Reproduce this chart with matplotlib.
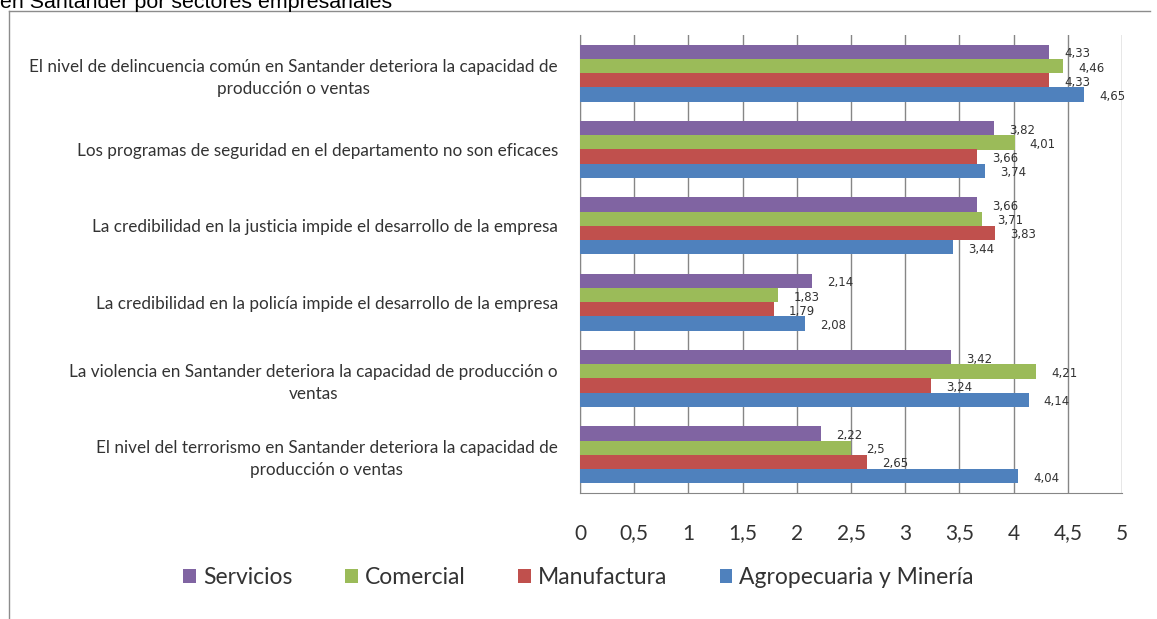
import matplotlib.pyplot as plt
from matplotlib.lines import Line2D
import numpy as np

# data
categorias = [
    'El nivel de delincuencia común en Santander deteriora la capacidad de\nproducción o ventas',
    'Los programas de seguridad en el departamento no son eficaces',
    'La credibilidad en la justicia impide el desarrollo de la empresa',
    'La credibilidad en la policía impide el desarrollo de la empresa',
    'La violencia en Santander deteriora la capacidad de producción o\nventas',
    'El nivel del terrorismo en Santander deteriora la capacidad de\nproducción o ventas',
]
servicios = [4.33, 3.82, 3.66, 2.14, 3.42, 2.22]
comercial = [4.46, 4.01, 3.71, 1.83, 4.21, 2.5]
manufactura = [4.33, 3.66, 3.83, 1.79, 3.24, 2.65]
agropecuaria = [4.65, 3.74, 3.44, 2.08, 4.14, 4.04]
series_names = ['Servicios', 'Comercial', 'Manufactura', 'Agropecuaria y Minería']
colores = ['#8064A2', '#9BBB59', '#C0504D', '#4F81BD']
ticks_x = [0, 0.5, 1, 1.5, 2, 2.5, 3, 3.5, 4, 4.5, 5]

fig = plt.figure(figsize=(11.57, 6.19), dpi=100)
ax = fig.add_axes([580/1157, 1-493/619, 542/1157, 458/619])

n = len(categorias)
centros = np.arange(n)[::-1]
h = 0.187
offsets = [1.5*h, 0.5*h, -0.5*h, -1.5*h]
for vals, nombre, col, off in zip([servicios, comercial, manufactura, agropecuaria], series_names, colores, offsets):
    bars = ax.barh(centros + off, vals, height=h, color=col, label=nombre, zorder=3)
    for b, v in zip(bars, vals):
        ax.annotate(('%g' % v).replace('.', ','), (b.get_width(), b.get_y() + h/2),
                    xytext=(15, -2), textcoords='offset pixels', va='center', ha='left',
                    fontsize=8.5, color='#333333', family='DejaVu Sans')

ax.set_xlim(0, 5)
ax.set_ylim(-0.5, n - 0.5)
ax.set_xticks(ticks_x)
ax.set_xticklabels([('%g' % t).replace('.', ',') for t in ticks_x], family='Lato', fontsize=15, color='#333333')
ax.set_yticks(centros)
ax.set_yticklabels(categorias, family='Lato', fontsize=12.3, color='#333333',
                   multialignment='center', linespacing=1.45)
ax.tick_params(axis='x', length=0, pad=22)
ax.tick_params(axis='y', length=0, pad=16)
ax.grid(axis='x', color='#868686', lw=1, zorder=0)
for s in ['top', 'right']:
    ax.spines[s].set_visible(False)
for s in ['left', 'bottom']:
    ax.spines[s].set_color('#868686')

fig.legend(loc='center', bbox_to_anchor=(0.5, 1-578/619), ncol=4, frameon=False,
           prop={'family': 'Lato', 'size': 16.5}, handlelength=0.55, handleheight=0.55,
           handletextpad=0.3, columnspacing=2.3, labelcolor='#333333')

# outer chart frame and cut-off caption
fig.add_artist(Line2D([9/1157, 9/1157], [0, 1-11/619], color='#8c8c8c', lw=1, transform=fig.transFigure))
fig.add_artist(Line2D([9/1157, 1150/1157], [1-11/619, 1-11/619], color='#8c8c8c', lw=1, transform=fig.transFigure))
fig.text(0.0, 1-8/619, 'en Santander por sectores empresariales', family='Liberation Sans',
         fontsize=15.4, va='baseline', ha='left', color='black')

fig.savefig('out.png', dpi=100)
